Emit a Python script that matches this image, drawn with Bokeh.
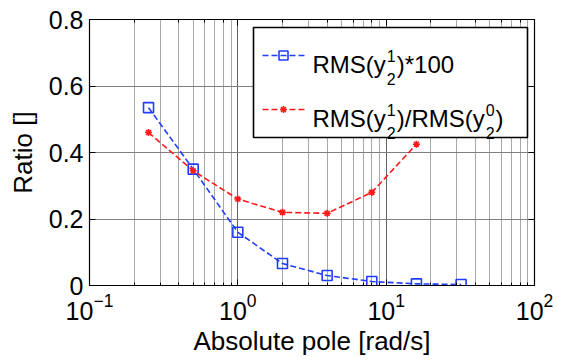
from bokeh.plotting import figure
from bokeh.models import (LogAxis, LinearAxis, Label, SingleIntervalTicker,
                          LogTicker, CustomJSTickFormatter, Range1d)
from bokeh.embed import file_html
from bokeh.resources import INLINE

# ---------------- data ----------------
poles_blue = [0.25, 0.5, 1, 2, 4, 8, 16, 32]
rms_x100 = [0.535, 0.35, 0.16, 0.066, 0.03, 0.012, 0.005, 0.003]
poles_red = [0.25, 0.5, 1, 2, 4, 8, 16]
rms_ratio = [0.46, 0.345, 0.26, 0.22, 0.217, 0.28, 0.425]
y_ticks = [0, 0.2, 0.4, 0.6, 0.8]

BLUE = "#1f3dff"
RED = "#ff1a1a"
FONT = "Liberation Sans"

W, H = 564, 360
L, R, T, B = 89, 534, 19, 285   # frame edges in pixels

p = figure(width=W, height=H, x_axis_type="log", output_backend="svg",
           toolbar_location=None, x_range=Range1d(0.1, 100), y_range=Range1d(0, 0.8),
           min_border_left=L, min_border_right=W - R, min_border_top=T,
           min_border_bottom=H - B)
p.background_fill_color = "white"
p.border_fill_color = "white"
p.outline_line_color = "black"
p.outline_line_width = 1.2

# axes
xa = p.xaxis[0]
ya = p.yaxis[0]
ya.ticker = SingleIntervalTicker(interval=0.2, num_minor_ticks=0)
ya.formatter = CustomJSTickFormatter(code="return tick == 0 ? '0' : tick.toFixed(1);")
for ax in (xa, ya):
    ax.major_tick_in = 6
    ax.major_tick_out = 0
    ax.minor_tick_in = 3
    ax.minor_tick_out = 0
    ax.axis_line_color = "black"
    ax.major_label_text_font = FONT
    ax.major_label_text_font_size = "25px"
    ax.major_label_text_color = "black"
    ax.axis_label_text_font = FONT
    ax.axis_label_text_font_size = "26px"
    ax.axis_label_text_font_style = "normal"
    ax.axis_label_text_color = "black"
xa.axis_label = "Absolute pole [rad/s]"
ya.axis_label = "Ratio []"
xa.major_label_standoff = 7
ya.major_label_standoff = 6
xa.axis_label_standoff = 3
ya.axis_label_standoff = 8

top = LogAxis(ticker=LogTicker(), major_tick_in=6, major_tick_out=0, minor_tick_in=3,
              minor_tick_out=0, major_label_text_font_size="0px", major_label_standoff=0)
top.formatter = CustomJSTickFormatter(code="return '';")
right = LinearAxis(ticker=SingleIntervalTicker(interval=0.2, num_minor_ticks=0),
                   major_tick_in=6, major_tick_out=0, minor_tick_in=0, minor_tick_out=0,
                   major_label_text_font_size="0px", major_label_standoff=0)
right.formatter = CustomJSTickFormatter(code="return '';")
p.add_layout(top, "above")
p.add_layout(right, "right")

# grid
p.xgrid.grid_line_color = "#666666"
p.xgrid.minor_grid_line_color = "#a8a8a8"
p.ygrid.grid_line_color = "#808080"
p.ygrid.ticker = SingleIntervalTicker(interval=0.2, num_minor_ticks=0)

# data series
p.line(poles_blue, rms_x100, color=BLUE, line_width=1.6, line_dash="6 3")
p.scatter(poles_blue, rms_x100, marker="square", size=10, fill_color=None,
          line_color=BLUE, line_width=1.6)
p.line(poles_red, rms_ratio, color=RED, line_width=1.6, line_dash="6 3")
p.scatter(poles_red, rms_ratio, marker="asterisk", size=7, line_color=RED, line_width=1.6)

# ---------------- legend (drawn manually for sub/superscripts) ----------------
def xd(px):
    return 10 ** (-1 + 3 * (px - L) / (R - L))

def yd(py):
    return 0.8 * (B - py) / (B - T)

p.quad(left=[xd(253)], right=[xd(527)], top=[yd(27)], bottom=[yd(137)],
       fill_color="white", line_color="black", line_width=1.6)

p.line([xd(262), xd(305)], [yd(55), yd(55)], color=BLUE, line_width=1.6, line_dash="6 3")
p.scatter([xd(283)], [yd(55)], marker="square", size=9, fill_color=None,
          line_color=BLUE, line_width=1.6)
p.line([xd(262), xd(305)], [yd(109), yd(109)], color=RED, line_width=1.6, line_dash="6 3")
p.scatter([xd(283)], [yd(109)], marker="asterisk", size=7, line_color=RED, line_width=1.6)

FS, fs = 24, 16
AW = {"R": .722, "M": .833, "S": .667, "(": .333, ")": .333, "y": .5, "*": .389,
      "1": .556, "0": .556, "2": .556, "/": .278}

def tw(s, size):
    return sum(AW.get(c, .556) for c in s) * size

def label(px, py, txt, size):
    p.add_layout(Label(x=xd(px), y=yd(py), text=txt, text_font=FONT,
                       text_font_size=f"{size}px", text_color="black",
                       text_align="left", text_baseline="alphabetic"))

def entry(pieces, base):
    x = 312
    for kind, txt in pieces:
        if kind == "n":
            label(x, base, txt, FS)
            x += tw(txt, FS)
        else:
            sup, sub = txt
            label(x + 1, base - 9, sup, fs)
            label(x + 1, base + 14, sub, fs)
            x += tw(sup, fs) + 2

entry([("n", "RMS(y"), ("s", ("1", "2")), ("n", ")*100")], 64)
entry([("n", "RMS(y"), ("s", ("1", "2")), ("n", ")/RMS(y"), ("s", ("0", "2")), ("n", ")")], 118)

open("out.html", "w").write(file_html(p, INLINE))
